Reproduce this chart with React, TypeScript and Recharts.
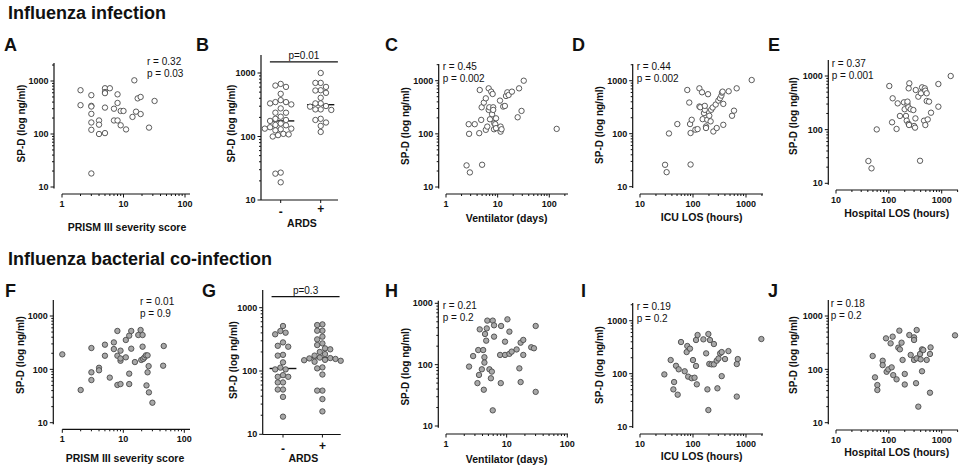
import React from "react";
import { ScatterChart, Scatter, XAxis, YAxis, ReferenceLine } from "recharts";

const W = 962;
const H = 465;
const FONT = '"Liberation Sans", Arial, Helvetica, sans-serif';
const INK = "#111";
const AXW = 30;
const AXH = 30;

// ---- values ----
// Influenza infection
const prismA = [2, 2, 3, 3, 3, 3, 3, 3, 3, 4, 4, 4, 5, 5, 5, 5, 5, 6, 7, 7, 8, 8, 8, 9, 9, 10, 11, 15, 14, 16, 17, 19, 19, 26, 32];
const spdA = [670, 350, 540, 340, 330, 240, 165, 120, 18, 180, 150, 100, 730, 620, 590, 315, 104, 730, 300, 180, 560, 385, 180, 272, 146, 272, 122, 1030, 210, 264, 470, 500, 238, 132, 420];

const ardsLabels = ["-", "+"];
const ardsNegB = [673, 634, 604, 470, 374, 348, 348, 332, 320, 277, 237, 237, 205, 190, 182, 176, 160, 152, 150, 140, 133, 133, 130, 125, 110, 108, 105, 100, 26, 27, 19];
const ardsPosB = [1000, 698, 698, 604, 535, 530, 487, 407, 332, 332, 302, 295, 267, 267, 262, 190, 182, 166, 147, 118];

const ventC = [2.5, 2.9, 2.75, 2.8, 3.6, 4.4, 4.5, 4.8, 5.0, 4.9, 5.4, 5.9, 5.9, 6.3, 6.7, 6.7, 6.9, 7.1, 7.5, 8.0, 7.8, 8.2, 8.2, 8.6, 8.5, 9.0, 9.3, 9.3, 11.1, 11.4, 11.4, 11.9, 12.8, 13.8, 14.5, 15.4, 16.3, 18.9, 24.4, 26, 29, 32, 139];
const spdC = [25.5, 18.8, 152, 100, 152, 103, 668, 183, 26.2, 316, 387, 466, 119, 137, 718, 282, 316, 188, 622, 562, 234, 316, 282, 158, 122, 152, 196, 128, 422, 137, 110, 122, 326, 335, 516, 604, 538, 622, 205, 718, 270, 1000, 124];

const icuD = [29.7, 31.8, 35.2, 50.6, 78, 85, 88, 90, 90, 94.5, 111, 122, 132, 132, 137, 148, 152, 161, 167, 167, 176, 176, 186, 192, 203, 215, 220, 235, 242, 280, 268, 301, 323, 343, 353, 362, 373, 373, 471, 545, 594, 667, 1280];
const spdD = [25.9, 18.8, 101, 152, 668, 387, 152, 103, 26.2, 183, 119, 122, 718, 326, 316, 604, 188, 245, 282, 335, 137, 128, 183, 556, 218, 171, 282, 312, 110, 128, 355, 422, 466, 523, 595, 622, 365, 147, 631, 218, 272, 718, 1030];

const hospE = [41, 47, 59, 102, 115, 118, 140, 147, 162, 193, 199, 211, 218, 225, 225, 234, 237, 241, 244, 237, 259, 291, 300, 313, 318, 323, 361, 389, 406, 425, 463, 478, 490, 490, 520, 520, 544, 576, 628, 865, 865, 1480];
const spdE = [26, 19, 101, 651, 137, 384, 103, 309, 180, 323, 240, 180, 147, 301, 333, 261, 128, 122, 730, 589, 240, 232, 117, 109, 162, 548, 412, 26.3, 476, 615, 147, 589, 533, 122, 476, 342, 155, 333, 207, 709, 268, 1000];

// Influenza bacterial co-infection
const prismF = [1, 2, 3, 3, 3, 4, 4, 5, 5, 6, 7, 7, 8, 8, 8, 9, 9, 9, 9, 11, 11, 12.5, 12.5, 12.5, 13.5, 13.5, 15.5, 17.6, 19.2, 19.7, 20.7, 20.7, 21.2, 22.3, 23.5, 24, 25, 25, 26, 26.3, 30, 46, 45];
const spdF = [191, 41, 251, 88, 63, 107, 96, 290, 180, 70, 320, 240, 524, 180, 51, 145, 224, 160, 53, 355, 168, 428, 83, 53, 524, 244, 137, 440, 546, 150, 440, 266, 157, 168, 183, 50, 88, 183, 115, 37, 23.7, 274, 117];

const ardsNegG = [514, 428, 403, 380, 283, 250, 242, 180, 175, 137, 113, 106, 106, 86, 81, 81, 66, 66, 51, 51, 39, 19];
const ardsPosG = [545, 532, 433, 433, 349, 316, 273, 257, 228, 220, 200, 185, 175, 163, 160, 158, 155, 150, 148, 145, 140, 114, 110, 88, 49, 49, 36, 23];

const ventH = [2.4, 2.8, 3.3, 3.4, 3.5, 3.6, 3.9, 4.1, 4.2, 4.3, 4.3, 4.4, 4.6, 4.7, 4.8, 5.2, 5.5, 5.7, 5.9, 5.9, 6.2, 6.2, 7.8, 8.0, 8.1, 9.4, 9.4, 11.1, 12.1, 10.3, 11.1, 14.6, 16.2, 17, 17, 18.8, 18.8, 25.4, 28.2, 30.1, 30.1];
const spdH = [93, 138, 50, 173, 68, 376, 84, 173, 39, 132, 108, 316, 246, 390, 522, 84, 60, 77, 522, 18, 438, 286, 144, 50, 427, 144, 237, 150, 163, 548, 345, 177, 87, 228, 52, 253, 144, 192, 185, 427, 36];

const icuI = [28.8, 37.9, 42.6, 44, 47.8, 51.4, 53.7, 59.4, 69.7, 75.9, 78, 81, 87.7, 94.6, 100, 107, 114, 114, 118, 122, 157, 177, 187, 195, 195, 203, 209, 224, 248, 248, 280, 289, 303, 325, 348, 348, 402, 466, 670, 700, 670, 1950];
const spdI = [97, 181, 50.6, 69.6, 141, 40.2, 121, 396, 111, 256, 333, 88, 297, 82, 181, 84, 432, 140, 63, 537, 445, 242, 50.6, 20.6, 560, 153, 432, 150, 363, 150, 176, 53, 194, 242, 90, 256, 189, 267, 152, 189, 37, 451];

const hospJ = [49.4, 54.7, 60.6, 60.6, 76.4, 76.4, 88.3, 90.7, 97.8, 108, 113, 118, 121, 140, 151, 158, 162, 174, 182, 200, 200, 244, 259, 300, 300, 300, 327, 336, 336, 361, 389, 400, 424, 424, 448, 520, 600, 616, 600, 1787];
const spdJ = [178, 70.8, 50.8, 41, 145, 120, 381, 90, 100, 307, 109, 410, 78, 65, 255, 531, 237, 316, 150, 82, 52, 440, 186, 398, 355, 150, 55, 161, 546, 20, 194, 154, 92, 237, 230, 150, 194, 258, 36.5, 434];

const prismMajors = [1, 10, 100];
const dayMajors = [1, 10, 100];
const hourMajors = [10, 100, 1000];
const spdMajors = [10, 100, 1000];

// ---- layout ----
type Plot = { l: number; t: number; r: number; b: number };
type Cal = [number, number, number, number]; // value1, px1, value2, px2

interface LogCfg {
  id: string;
  plot: Plot;
  xCal: Cal;
  yCal: Cal;
  xMajors: number[];
  xs: number[];
  ys: number[];
  filled: boolean;
  xTitle: string;
  xTitleAt: [number, number];
  yTitleAt: [number, number];
  stats: string[];
  statsAt: [number, number, number];
  letterAt: [number, number];
}

interface GroupCfg {
  id: string;
  plot: Plot;
  xCal: Cal;
  yCal: Cal;
  neg: number[];
  pos: number[];
  filled: boolean;
  pText: string;
  pBar: [number, number, number];
  tickDy: [number, number];
  xTitleAt: [number, number];
  yTitleAt: [number, number];
  letterAt: [number, number];
}

const logPanels: LogCfg[] = [
  { id: "A", plot: { l: 54, t: 63, r: 190, b: 194 }, xCal: [1, 62, 100, 185], yCal: [10, 187, 1000, 81], xMajors: prismMajors, xs: prismA, ys: spdA, filled: false, xTitle: "PRISM III severity score", xTitleAt: [127, 230.5], yTitleAt: [21, 123.5], stats: ["r = 0.32", "p = 0.03"], statsAt: [147, 65, 77], letterAt: [4, 51] },
  { id: "C", plot: { l: 438.7, t: 64, r: 568, b: 194 }, xCal: [1, 446, 100, 549.3], yCal: [10, 187, 1000, 80.7], xMajors: dayMajors, xs: ventC, ys: spdC, filled: false, xTitle: "Ventilator (days)", xTitleAt: [506.7, 221.5], yTitleAt: [405, 126], stats: ["r = 0.45", "p = 0.002"], statsAt: [442.7, 70, 82], letterAt: [385, 51] },
  { id: "D", plot: { l: 632.7, t: 64, r: 763, b: 194 }, xCal: [10, 640, 1000, 746], yCal: [10, 186.7, 1000, 80.7], xMajors: hourMajors, xs: icuD, ys: spdD, filled: false, xTitle: "ICU LOS (hours)", xTitleAt: [701.7, 221], yTitleAt: [599.3, 125], stats: ["r = 0.44", "p = 0.002"], statsAt: [636.7, 70, 82], letterAt: [572, 51] },
  { id: "E", plot: { l: 828.3, t: 60, r: 958, b: 190 }, xCal: [10, 836, 1000, 941.7], yCal: [10, 183.3, 1000, 76], xMajors: hourMajors, xs: hospE, ys: spdE, filled: false, xTitle: "Hospital LOS (hours)", xTitleAt: [896.7, 216.5], yTitleAt: [793.3, 116], stats: ["r = 0.37", "p = 0.001"], statsAt: [831.7, 66.5, 79], letterAt: [768, 51] },
  { id: "F", plot: { l: 53.3, t: 300, r: 190, b: 429.3 }, xCal: [1, 62.3, 100, 184.3], yCal: [10, 422.7, 1000, 316], xMajors: prismMajors, xs: prismF, ys: spdF, filled: true, xTitle: "PRISM III severity score", xTitleAt: [125, 462], yTitleAt: [20, 355], stats: ["r = 0.01", "p = 0.9"], statsAt: [140, 305, 316.5], letterAt: [5, 297] },
  { id: "H", plot: { l: 438.3, t: 300.7, r: 568, b: 434 }, xCal: [1, 446, 100, 567.3], yCal: [10, 426, 1000, 303.3], xMajors: dayMajors, xs: ventH, ys: spdH, filled: true, xTitle: "Ventilator (days)", xTitleAt: [506.7, 463], yTitleAt: [405, 366.7], stats: ["r = 0.21", "p = 0.2"], statsAt: [442.7, 308.5, 320.5], letterAt: [385, 297] },
  { id: "I", plot: { l: 632.7, t: 303, r: 763, b: 434 }, xCal: [10, 640, 1000, 746], yCal: [10, 426.7, 1000, 320.7], xMajors: hourMajors, xs: icuI, ys: spdI, filled: true, xTitle: "ICU LOS (hours)", xTitleAt: [701.7, 460], yTitleAt: [599.3, 365], stats: ["r = 0.19", "p = 0.2"], statsAt: [636.7, 309.5, 322], letterAt: [581, 297] },
  { id: "J", plot: { l: 828.3, t: 300, r: 958, b: 430 }, xCal: [10, 836, 1000, 941.7], yCal: [10, 422.7, 1000, 316], xMajors: hourMajors, xs: hospJ, ys: spdJ, filled: true, xTitle: "Hospital LOS (hours)", xTitleAt: [896.7, 456], yTitleAt: [793.3, 355], stats: ["r = 0.18", "p = 0.2"], statsAt: [830.7, 306.5, 318.5], letterAt: [768, 297] },
];

const groupPanels: GroupCfg[] = [
  { id: "B", plot: { l: 261, t: 55, r: 338, b: 200 }, xCal: [1, 280.7, 2, 320.7], yCal: [10, 200, 1000, 73], neg: ardsNegB, pos: ardsPosB, filled: false, pText: "p=0.01", pBar: [0.73, 2.43, 1500], tickDy: [15.5, 12.5], xTitleAt: [302, 227], yTitleAt: [231.7, 123.5], letterAt: [196, 51] },
  { id: "G", plot: { l: 262.7, t: 290, r: 340.7, b: 434.5 }, xCal: [1, 283.3, 2, 323.3], yCal: [10, 434.3, 1000, 307.7], neg: ardsNegG, pos: ardsPosG, filled: true, pText: "p=0.3", pBar: [0.71, 2.435, 1500], tickDy: [18, 15.5], xTitleAt: [303.3, 462.3], yTitleAt: [233.3, 360], letterAt: [202, 297] },
];

const sections = [
  { text: "Influenza infection", x: 8, y: 19 },
  { text: "Influenza bacterial co-infection", x: 8, y: 265 },
];

// ---- helpers ----
function xDomainOf(cal: Cal, left: number, right: number, log: boolean): [number, number] {
  const [v1, p1, v2, p2] = cal;
  if (log) {
    const d = (p2 - p1) / Math.log10(v2 / v1);
    return [v1 * 10 ** ((left - p1) / d), v1 * 10 ** ((right - p1) / d)];
  }
  const u = (p2 - p1) / (v2 - v1);
  return [v1 + (left - p1) / u, v1 + (right - p1) / u];
}

function yDomainOf(cal: Cal, top: number, bottom: number): [number, number] {
  const [v1, p1, v2, p2] = cal;
  const d = (p1 - p2) / Math.log10(v2 / v1);
  return [v1 * 10 ** ((p1 - bottom) / d), v1 * 10 ** ((p1 - top) / d)];
}

function logTicks(majors: number[], hi: number) {
  const out: number[] = [];
  majors.forEach((m) => {
    for (let k = 1; k < 10; k++) if (m * k <= hi * 1.0001) out.push(m * k);
  });
  return out;
}

const median = (v: number[]) => {
  const s = [...v].sort((a, b) => a - b);
  const m = s.length >> 1;
  return s.length % 2 ? s[m] : (s[m - 1] + s[m]) / 2;
};

// beeswarm: put each value at the smallest sideways offset that does not overlap
function swarm(vals: number[], group: number, decadePx: number, unitPx: number, d: number) {
  const placed: { px: number; py: number }[] = [];
  return [...vals]
    .sort((a, b) => b - a)
    .map((v) => {
      const py = Math.log10(v) * decadePx;
      let px = 0;
      for (let i = 0; i < 80; i++) {
        const k = i === 0 ? 0 : i % 2 ? -Math.ceil(i / 2) : i / 2;
        px = (k * d) / 2;
        if (placed.every((p) => Math.hypot(p.px - px, p.py - py) >= d)) break;
      }
      placed.push({ px, py });
      return { x: group + px / unitPx, y: v };
    });
}

const marginOf = (p: Plot) => ({ top: p.t, left: p.l - AXW, right: W - p.r, bottom: H - p.b - AXH });

const dotShape = (filled: boolean) => (p: any) => (
  <circle cx={p.cx} cy={p.cy} r={2.7} fill={filled ? "#a8a8a8" : "#fff"} stroke="#4a4a4a" strokeWidth={0.9} />
);

const txt = { fontFamily: FONT, fill: INK };

const xLogTick = (majors: number[]) => (p: any) => {
  const v = p.payload.value;
  const major = majors.includes(v);
  return (
    <g>
      <line x1={p.x} x2={p.x} y1={p.y} y2={p.y + (major ? 3.5 : 2)} stroke={INK} strokeWidth={1} />
      {major && (
        <text x={p.x} y={p.y + 13} textAnchor="middle" fontSize={9} fontWeight="bold" {...txt}>
          {v}
        </text>
      )}
    </g>
  );
};

const yLogTick = (p: any) => {
  const v = p.payload.value;
  const major = spdMajors.includes(v);
  return (
    <g>
      <line x1={p.x} x2={p.x - (major ? 3.5 : 2)} y1={p.y} y2={p.y} stroke={INK} strokeWidth={1} />
      {major && (
        <text x={p.x - 5.5} y={p.y} dy="0.35em" textAnchor="end" fontSize={9} fontWeight="bold" {...txt}>
          {v}
        </text>
      )}
    </g>
  );
};

const XTitle = ({ tx, ty, text }: any) => (
  <text x={tx} y={ty} textAnchor="middle" fontSize={10.5} fontWeight="bold" {...txt}>
    {text}
  </text>
);

const YTitle = ({ tx, ty }: any) => (
  <text transform={`translate(${tx},${ty}) rotate(-90)`} textAnchor="middle" dominantBaseline="central" fontSize={10} fontWeight="bold" {...txt}>
    SP-D (log ng/ml)
  </text>
);

function LogPanel({ c }: { c: LogCfg }) {
  const xDom = xDomainOf(c.xCal, c.plot.l, c.plot.r, true);
  const yDom = yDomainOf(c.yCal, c.plot.t, c.plot.b);
  const data = c.xs.map((x, i) => ({ x, y: c.ys[i] }));
  return (
    <div style={{ position: "absolute", left: 0, top: 0 }}>
      <ScatterChart width={W} height={H} margin={marginOf(c.plot)}>
        <XAxis
          type="number"
          dataKey="x"
          scale="log"
          domain={xDom}
          ticks={logTicks(c.xMajors, xDom[1])}
          interval={0}
          axisLine={false}
          tickLine={false}
          tickSize={0}
          tickMargin={0}
          height={AXH}
          tick={xLogTick(c.xMajors)}
          label={<XTitle tx={c.xTitleAt[0]} ty={c.xTitleAt[1]} text={c.xTitle} />}
        />
        <YAxis
          type="number"
          dataKey="y"
          scale="log"
          domain={yDom}
          ticks={logTicks(spdMajors, yDom[1])}
          interval={0}
          axisLine={false}
          tickLine={false}
          tickSize={0}
          tickMargin={0}
          width={AXW}
          tick={yLogTick}
          label={<YTitle tx={c.yTitleAt[0]} ty={c.yTitleAt[1]} />}
        />
        <Scatter data={data} isAnimationActive={false} shape={dotShape(c.filled)} />
        <ReferenceLine
          ifOverflow="visible"
          stroke={INK}
          strokeWidth={1.2}
          segment={[{ x: xDom[0], y: 9.4 }, { x: xDom[0], y: yDom[1] }]}
        />
        <ReferenceLine
          ifOverflow="visible"
          stroke={INK}
          strokeWidth={1.2}
          segment={[{ x: c.xMajors[0], y: yDom[0] }, { x: xDom[1], y: yDom[0] }]}
        />
      </ScatterChart>
    </div>
  );
}

function GroupPanel({ c }: { c: GroupCfg }) {
  const xDom = xDomainOf(c.xCal, c.plot.l, c.plot.r, false);
  const yDom = yDomainOf(c.yCal, c.plot.t, c.plot.b);
  const unitPx = (c.xCal[3] - c.xCal[1]) / (c.xCal[2] - c.xCal[0]);
  const decadePx = (c.yCal[1] - c.yCal[3]) / Math.log10(c.yCal[2] / c.yCal[0]);
  const groups = [c.neg, c.pos];
  const axis = { stroke: INK, strokeWidth: 1.2 };
  const catTick = (p: any) => {
    const i = Math.round(p.payload.value) - 1;
    return (
      <g>
        <line x1={p.x} x2={p.x} y1={p.y} y2={p.y + 3} stroke={INK} strokeWidth={1} />
        <text x={p.x} y={p.y + c.tickDy[i]} textAnchor="middle" fontSize={12} fontWeight="bold" {...txt}>
          {ardsLabels[i]}
        </text>
      </g>
    );
  };
  return (
    <div style={{ position: "absolute", left: 0, top: 0 }}>
      <ScatterChart width={W} height={H} margin={marginOf(c.plot)}>
        <XAxis
          type="number"
          dataKey="x"
          domain={xDom}
          ticks={[1, 2]}
          interval={0}
          axisLine={axis}
          tickLine={false}
          tickSize={0}
          tickMargin={0}
          height={AXH}
          tick={catTick}
          label={<XTitle tx={c.xTitleAt[0]} ty={c.xTitleAt[1]} text="ARDS" />}
        />
        <YAxis
          type="number"
          dataKey="y"
          scale="log"
          domain={yDom}
          ticks={logTicks(spdMajors, yDom[1])}
          interval={0}
          axisLine={axis}
          tickLine={false}
          tickSize={0}
          tickMargin={0}
          width={AXW}
          tick={yLogTick}
          label={<YTitle tx={c.yTitleAt[0]} ty={c.yTitleAt[1]} />}
        />
        {groups.map((g, i) => (
          <Scatter
            key={i}
            name={ardsLabels[i]}
            data={swarm(g, i + 1, decadePx, unitPx, 5.3)}
            isAnimationActive={false}
            shape={dotShape(c.filled)}
          />
        ))}
        {groups.map((g, i) => (
          <ReferenceLine
            key={"m" + i}
            ifOverflow="visible"
            stroke={INK}
            strokeWidth={1.4}
            segment={[{ x: i + 1 - 0.34, y: median(g) }, { x: i + 1 + 0.34, y: median(g) }]}
          />
        ))}
        <ReferenceLine
          ifOverflow="visible"
          stroke={INK}
          strokeWidth={1.2}
          segment={[{ x: c.pBar[0], y: c.pBar[2] }, { x: c.pBar[1], y: c.pBar[2] }]}
          label={{ value: c.pText, position: "top", offset: 3, fontSize: 10, fill: INK, fontFamily: FONT }}
        />
      </ScatterChart>
    </div>
  );
}

export default function App() {
  const letters = [...logPanels, ...groupPanels];
  return (
    <div style={{ position: "absolute", left: 0, top: 0, width: W, height: H, background: "#fff", fontFamily: FONT }}>
      {logPanels.map((c) => (
        <LogPanel key={c.id} c={c} />
      ))}
      {groupPanels.map((c) => (
        <GroupPanel key={c.id} c={c} />
      ))}
      <svg width={W} height={H} style={{ position: "absolute", left: 0, top: 0 }}>
        {sections.map((s) => (
          <text key={s.text} x={s.x} y={s.y} fontSize={18} fontWeight="bold" {...txt}>
            {s.text}
          </text>
        ))}
        {letters.map((c) => (
          <text key={c.id} x={c.letterAt[0]} y={c.letterAt[1]} fontSize={18} fontWeight="bold" {...txt}>
            {c.id}
          </text>
        ))}
        {logPanels.map((c) =>
          c.stats.map((s, i) => (
            <text key={c.id + i} x={c.statsAt[0]} y={c.statsAt[i + 1]} fontSize={10} {...txt}>
              {s}
            </text>
          ))
        )}
      </svg>
    </div>
  );
}
